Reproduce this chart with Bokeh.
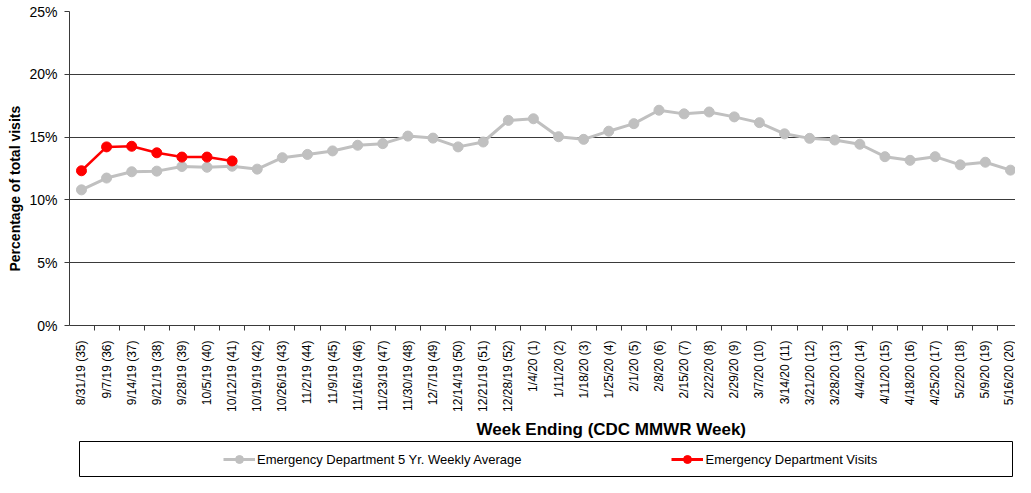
import math
from bokeh.plotting import figure
from bokeh.layouts import column
from bokeh.models import (Range1d, FixedTicker, PrintfTickFormatter, Title,
                          Legend, LegendItem, ColumnDataSource)
from bokeh.embed import file_html
from bokeh.resources import INLINE

weeks = ["8/31/19 (35)", "9/7/19 (36)", "9/14/19 (37)", "9/21/19 (38)", "9/28/19 (39)",
         "10/5/19 (40)", "10/12/19 (41)", "10/19/19 (42)", "10/26/19 (43)", "11/2/19 (44)",
         "11/9/19 (45)", "11/16/19 (46)", "11/23/19 (47)", "11/30/19 (48)", "12/7/19 (49)",
         "12/14/19 (50)", "12/21/19 (51)", "12/28/19 (52)", "1/4/20 (1)", "1/11/20 (2)",
         "1/18/20 (3)", "1/25/20 (4)", "2/1/20 (5)", "2/8/20 (6)", "2/15/20 (7)",
         "2/22/20 (8)", "2/29/20 (9)", "3/7/20 (10)", "3/14/20 (11)", "3/21/20 (12)",
         "3/28/20 (13)", "4/4/20 (14)", "4/11/20 (15)", "4/18/20 (16)", "4/25/20 (17)",
         "5/2/20 (18)", "5/9/20 (19)", "5/16/20 (20)"]

avg_5yr = [10.8, 11.74, 12.24, 12.29, 12.66, 12.6, 12.68, 12.45, 13.36, 13.62,
           13.9, 14.35, 14.48, 15.08, 14.92, 14.22, 14.61, 16.33, 16.46, 15.03,
           14.82, 15.47, 16.07, 17.14, 16.85, 17.0, 16.61, 16.15, 15.26, 14.9,
           14.77, 14.43, 13.44, 13.15, 13.44, 12.79, 13.0, 12.37]

visits = [12.32, 14.22, 14.27, 13.75, 13.41, 13.41, 13.1]

y_ticks = [0, 5, 10, 15, 20, 25]

FONT = "Liberation Sans"
GRAY = "#C0C0C0"
RED = "#FF0000"
DARK = "#3a3a3a"

idx = list(range(len(weeks)))
src_avg = ColumnDataSource(dict(x=idx, y=avg_5yr))
src_vis = ColumnDataSource(dict(x=idx[:len(visits)], y=visits))

p = figure(width=1015, height=441, output_backend="svg", toolbar_location=None,
           x_range=Range1d(-0.477, 37.2), y_range=Range1d(0, 25),
           min_border_left=68, min_border_right=0, min_border_top=11,
           min_border_bottom=110, frame_align=False)
p.outline_line_color = None
p.background_fill_color = "white"
p.border_fill_color = "white"

p.line("x", "y", source=src_avg, line_color=GRAY, line_width=3)
p.scatter("x", "y", source=src_avg, size=10, marker="circle", fill_color=GRAY, line_color=GRAY)
p.line("x", "y", source=src_vis, line_color=RED, line_width=2.5)
p.scatter("x", "y", source=src_vis, size=10, marker="circle", fill_color=RED, line_color=RED)

# y axis
p.yaxis.ticker = FixedTicker(ticks=y_ticks)
p.yaxis.formatter = PrintfTickFormatter(format="%d%%")
p.yaxis.major_label_text_font = FONT
p.yaxis.major_label_text_font_size = "14px"
p.yaxis.major_label_text_color = "black"
p.yaxis.major_label_standoff = 7
p.yaxis.major_tick_out = 5
p.yaxis.major_tick_in = 0
p.yaxis.minor_tick_line_color = None
p.yaxis.axis_line_color = DARK
p.yaxis.major_tick_line_color = DARK

# x axis
p.xaxis.ticker = FixedTicker(ticks=idx, minor_ticks=[i - 0.5 for i in range(len(weeks) + 1)])
p.xaxis.major_label_overrides = {i: w for i, w in enumerate(weeks)}
p.xaxis.major_label_orientation = math.pi / 2
p.xaxis.major_label_text_font = FONT
p.xaxis.major_label_text_font_size = "12px"
p.xaxis.major_label_text_color = "black"
p.xaxis.major_label_standoff = 10
p.xaxis.major_tick_line_color = None
p.xaxis.major_tick_out = 0
p.xaxis.major_tick_in = 0
p.xaxis.minor_tick_line_color = DARK
p.xaxis.minor_tick_out = 5
p.xaxis.minor_tick_in = 0
p.xaxis.axis_line_color = DARK

p.xgrid.grid_line_color = None
p.ygrid.ticker = FixedTicker(ticks=y_ticks)
p.ygrid.grid_line_color = DARK
p.ygrid.grid_line_width = 1

p.add_layout(Title(text="Percentage of total visits", align="left", offset=54,
                   text_font=FONT, text_font_size="14px", text_font_style="bold",
                   text_color="black", standoff=8), "left")
p.add_layout(Title(text="Week Ending (CDC MMWR Week)", align="left", offset=407,
                   text_font=FONT, text_font_size="17px", text_font_style="bold",
                   text_color="black", standoff=6), "below")

# legend panel (its renderers share the chart's data, kept outside the panel's view)
leg = figure(width=1015, height=36, output_backend="svg", toolbar_location=None,
             x_range=Range1d(1000, 1001), y_range=Range1d(1000, 1001),
             min_border_left=79, min_border_right=3, min_border_top=0, min_border_bottom=1,
             frame_align=False)
leg.axis.visible = False
leg.grid.visible = False
leg.outline_line_color = "black"
leg.outline_line_width = 1
l1 = leg.line("x", "y", source=src_avg, line_color=GRAY, line_width=3)
s1 = leg.scatter("x", "y", source=src_avg, size=7, fill_color=GRAY, line_color=GRAY)
l2 = leg.line("x", "y", source=src_vis, line_color=RED, line_width=3)
s2 = leg.scatter("x", "y", source=src_vis, size=7, fill_color=RED, line_color=RED)
legend = Legend(items=[LegendItem(label="Emergency Department 5 Yr. Weekly Average", renderers=[l1, s1]),
                       LegendItem(label="Emergency Department Visits", renderers=[l2, s2])],
                orientation="horizontal", location=(144, 7), padding=0, margin=0,
                spacing=150, glyph_width=32, glyph_height=20, label_standoff=2,
                label_text_font=FONT, label_text_font_size="13px", label_text_color="black",
                border_line_color=None, background_fill_alpha=0)
leg.add_layout(legend, "center")

layout = column(p, leg, spacing=0)
open("out.html", "w").write(file_html(layout, INLINE))
